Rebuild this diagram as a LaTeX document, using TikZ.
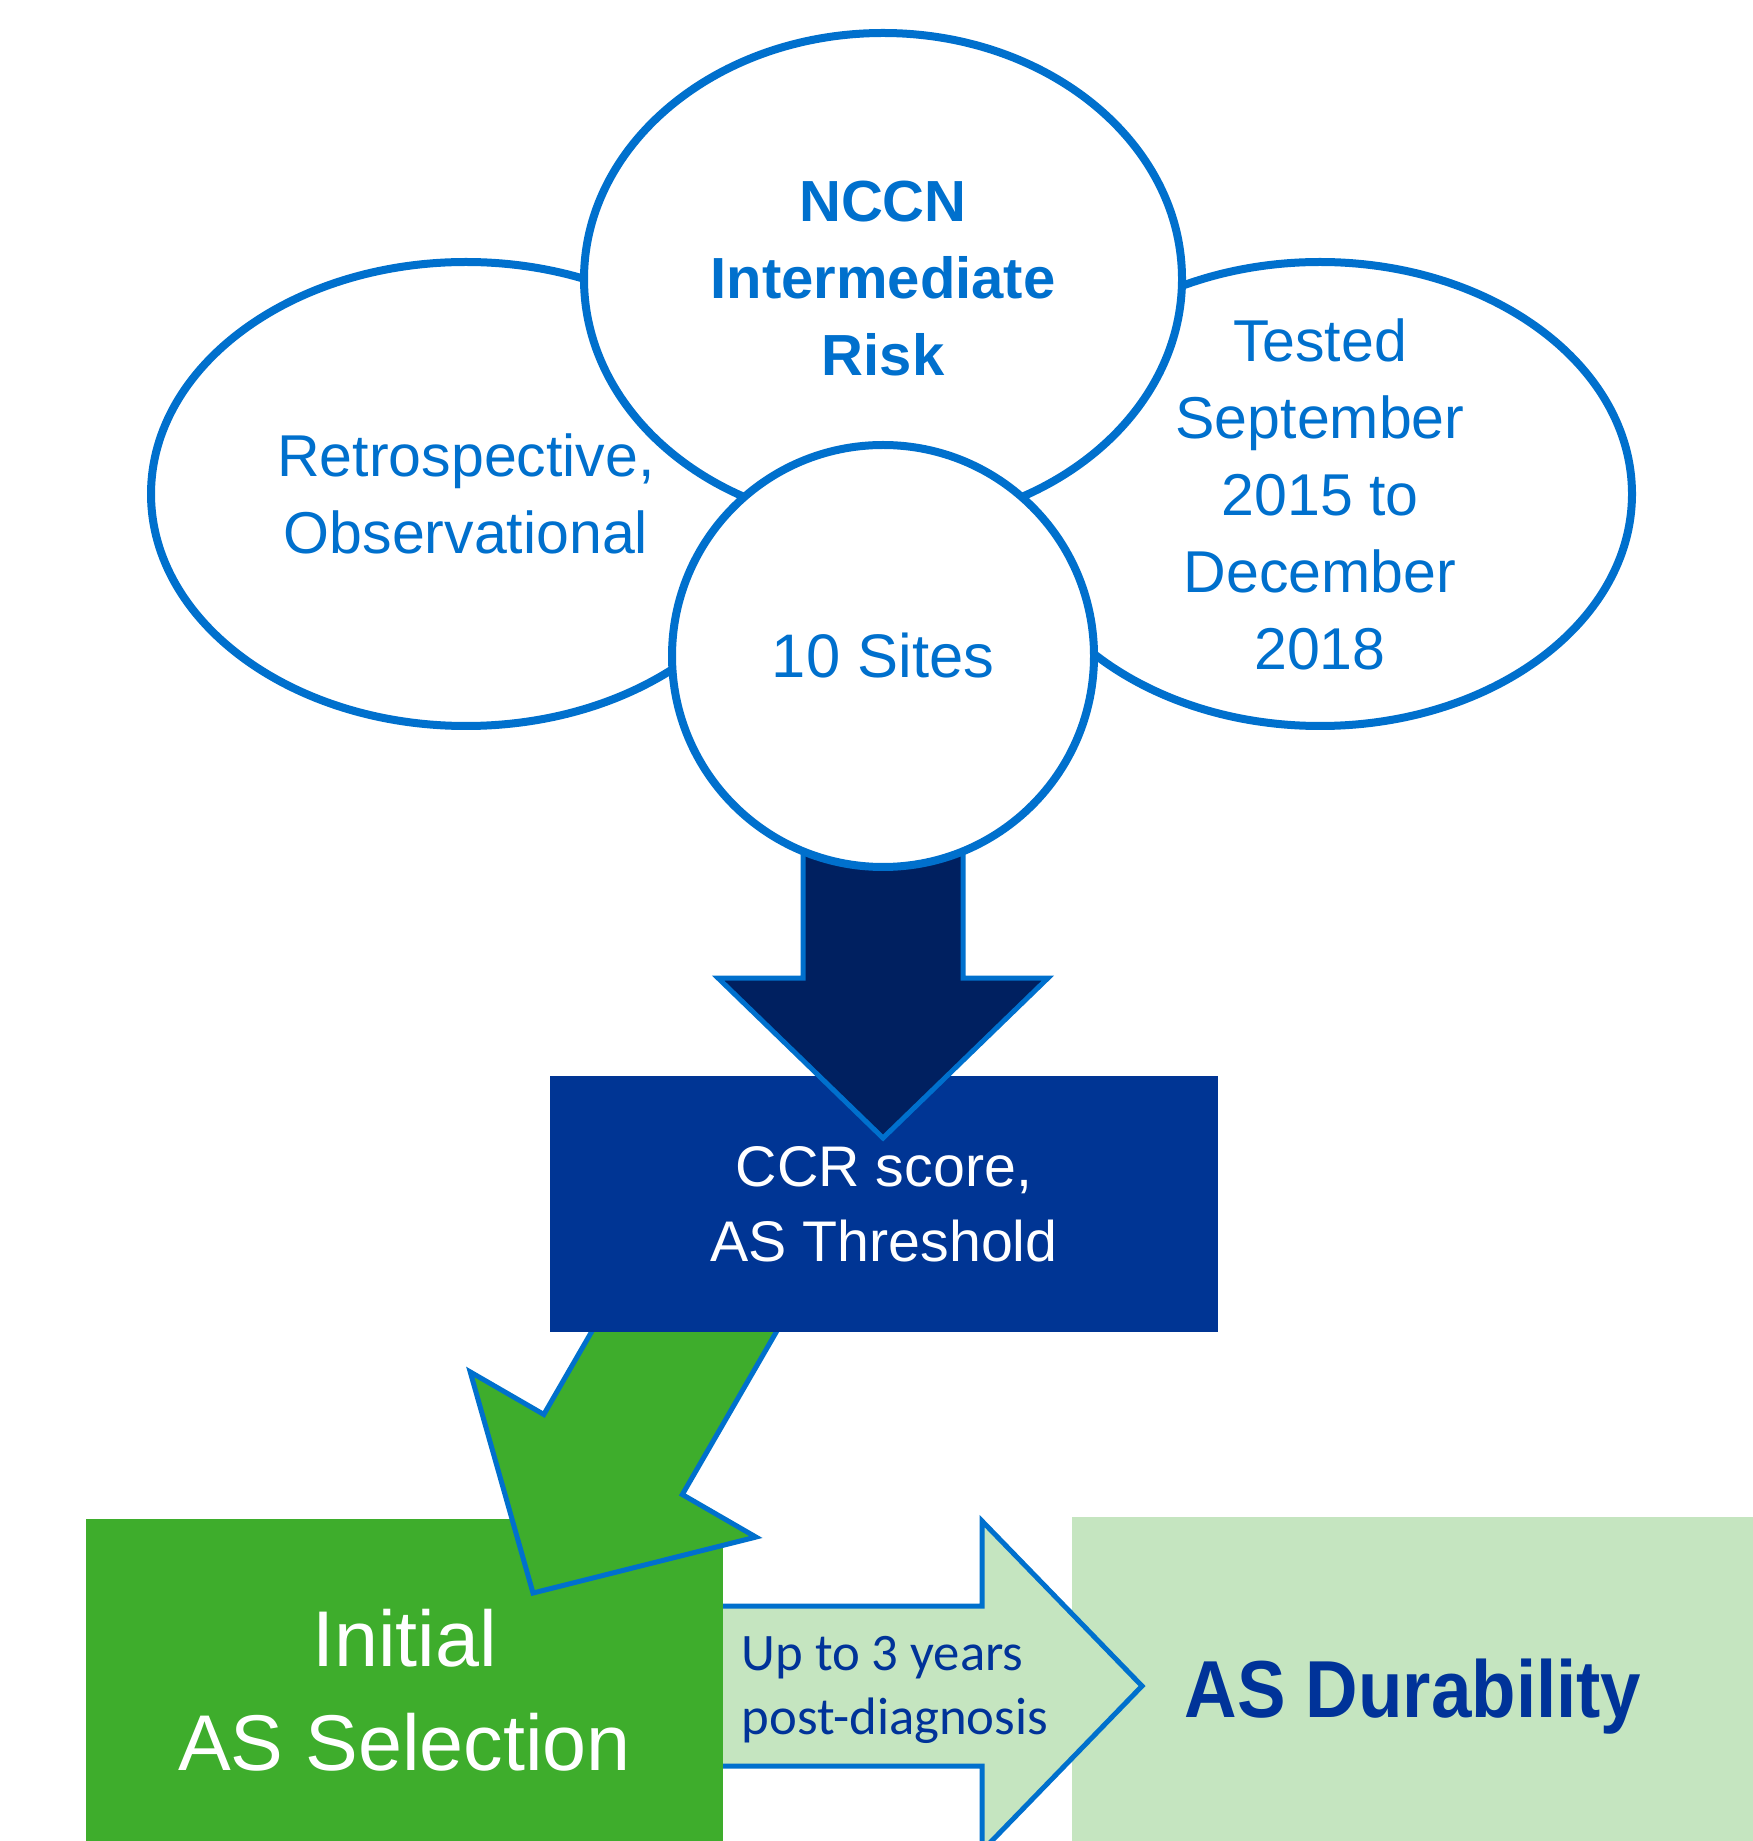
\documentclass[tikz,border=0pt]{standalone}
\usepackage{fontspec}
\setmainfont{Liberation Sans}
\newfontfamily\calibri{Carlito}
\newfontfamily\durafont[FakeStretch=0.9]{Liberation Sans}
\usetikzlibrary{positioning, shapes.geometric, calc}

\definecolor{lineblue}{RGB}{0,112,205}
\definecolor{navy}{RGB}{0,32,96}
\definecolor{ccrblue}{RGB}{0,53,148}
\definecolor{selgreen}{RGB}{62,173,44}
\definecolor{palegreen}{RGB}{197,229,192}
\definecolor{darktext}{RGB}{0,51,153}

% block arrow from a tail point to a tip point
\newcommand{\fatarrow}[3][]{%
    \coordinate (neck) at ($(#3)!16mm!(#2)$);
    \draw [fat arrow, #1] ($(#2)!8mm!90:(#3)$) -- ($(neck)!8mm!90:(#3)$)
        -- ($(neck)!16.5mm!90:(#3)$) -- (#3) -- ($(neck)!16.5mm!-90:(#3)$)
        -- ($(neck)!8mm!-90:(#3)$) -- ($(#2)!8mm!-90:(#3)$) -- cycle;
}

\begin{document}
\begin{tikzpicture}
    [
        x=0.1mm, y=0.1mm,
        on grid,
        node distance=37.7mm and 85.4mm,
        bubble/.style={draw=lineblue, line width=0.8mm, fill=white, ellipse, inner sep=0pt},
        bubble text/.style={text=lineblue, align=center, inner sep=0pt, font=\fontsize{16.8}{21.9}\selectfont},
        block/.style={rectangle, inner sep=0pt, align=center},
        fat arrow/.style={draw=lineblue, line width=0.5mm, line join=miter}
    ]
        \useasboundingbox (0,0) rectangle (1752,-1841);

        % =========================================================================
        % NODES
        % =========================================================================
        % --- Top bubbles ---
        \node [bubble, minimum width=63mm, minimum height=46.4mm] (retro) at (466,-494) {};
        \node [bubble text] (retroText) at (retro) {Retrospective,\\Observational};
        \node [bubble, minimum width=62.4mm, minimum height=46.4mm, right=of retro] (tested) {};
        \node [bubble text] (testedText) at (tested) {Tested\\September\\2015 to\\December\\2018};
        \node [bubble, minimum width=59.8mm, minimum height=49.2mm] (nccn) at (883,-279) {};
        \node [bubble text, font=\fontsize{16.5}{21.9}\selectfont\bfseries] (nccnText) at (nccn) {NCCN\\Intermediate\\Risk};

        % --- Bottom row ---
        \node [block, fill=palegreen, text=darktext, minimum width=68.2mm, minimum height=36mm,
            font={\durafont\bfseries\fontsize{23}{28}\selectfont}] (durability) at (1413,-1697) {AS Durability};
        \coordinate (durTail) at (700,-1686);
        \coordinate (durTip) at (1142,-1686);
        \fatarrow[fill=palegreen]{durTail}{durTip}
        \node [anchor=west, align=left, inner sep=0pt, text=darktext,
            font=\calibri\fontsize{15}{18.2}\selectfont] (period) at (741,-1690) {Up to 3 years\\post-diagnosis};
        \node [block, fill=selgreen, text=white, minimum width=63.7mm, minimum height=34.2mm,
            font=\fontsize{22.5}{29.6}\selectfont] (initial) at (404.5,-1690) {Initial\\AS Selection};

        % =========================================================================
        % PATHS
        % =========================================================================
        \coordinate (selTail) at (733,-1247);
        \coordinate (selTip) at (533,-1593);
        \fatarrow[fill=selgreen]{selTail}{selTip}

        \node [block, fill=ccrblue, text=white, minimum width=66.8mm, minimum height=25.6mm,
            font=\fontsize{16.3}{21.3}\selectfont] (ccr) at (884,-1204) {CCR score,\\AS Threshold};

        \coordinate (ccrTail) at (883,-780);
        \coordinate (ccrTip) at (883,-1138);
        \fatarrow[fill=navy]{ccrTail}{ccrTip}

        % --- Centre bubble ---
        \node [bubble, minimum width=42.2mm, minimum height=42.2mm, below=of nccn] (sites) {};
        \node [bubble text, font=\fontsize{17.5}{21.9}\selectfont] (sitesText) at (sites) {10 Sites};

    \end{tikzpicture}
\end{document}
